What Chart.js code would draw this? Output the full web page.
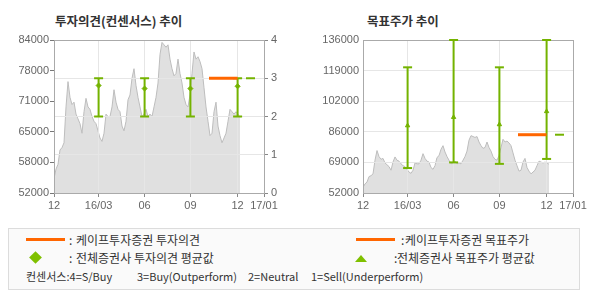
<!DOCTYPE html>
<html>
<head>
<meta charset="utf-8">
<script src="https://cdn.jsdelivr.net/npm/chart.js@4/dist/chart.umd.min.js"></script>
<style>
  body { margin: 0; background: #fff; width: 590px; height: 300px; position: relative; overflow: hidden;
         font-family: "Noto Sans CJK KR", sans-serif; color: #333; }
  .abs { position: absolute; white-space: nowrap; }
  .title { font-size: 12.5px; font-weight: bold; line-height: 15px; top: 13px; color: #333; }
  #c1 { position: absolute; left: 0; top: 0; }
  #c2 { position: absolute; left: 295px; top: 0; }
  .box { left: 8px; top: 228px; width: 570px; height: 60px; border: 1px solid #dcdcdc; background: #fafafa; }
  .lg { font-size: 12px; line-height: 14px; color: #333; }
  .sm { font-size: 11px; line-height: 13px; color: #333; top: 269.5px; }
  .oline { height: 3px; width: 39px; background: #f60; top: 238px; }
</style>
</head>
<body>
<div class="abs title" style="left:55px">투자의견(컨센서스) 추이</div>
<div class="abs title" style="left:367px">목표주가 추이</div>
<canvas id="c1" width="295" height="215"></canvas>
<canvas id="c2" width="295" height="215"></canvas>

<div class="abs box"></div>
<div class="abs oline" style="left:26px"></div>
<div class="abs lg" style="left:69px;top:232.5px">:</div>
<div class="abs lg" style="left:76px;top:232.5px">케이프투자증권 투자의견</div>
<div class="abs oline" style="left:356px"></div>
<div class="abs lg" style="left:401px;top:232.5px">:</div>
<div class="abs lg" style="left:405px;top:232.5px">케이프투자증권 목표주가</div>

<div class="abs" style="left:30.5px;top:253px;width:9px;height:9px;background:#7fc000;transform:rotate(45deg)"></div>
<div class="abs lg" style="left:69px;top:250.5px">:</div>
<div class="abs lg" style="left:76px;top:250.5px">전체증권사 투자의견 평균값</div>
<div class="abs" style="left:355px;top:255px;width:0;height:0;border-left:6px solid transparent;border-right:6px solid transparent;border-bottom:7px solid #7fc000"></div>
<div class="abs lg" style="left:394px;top:250.5px">:</div>
<div class="abs lg" style="left:397px;top:250.5px">전체증권사 목표주가 평균값</div>

<div class="abs sm" style="left:26px">컨센서스:4=S/Buy</div>
<div class="abs sm" style="left:137px">3=Buy(Outperform)</div>
<div class="abs sm" style="left:248px">2=Neutral</div>
<div class="abs sm" style="left:311px">1=Sell(Underperform)</div>

<script>
// x axis: one unit = one sample of the price series
const xTickLabels = ['12', '16/03', '06', '09', '12', '17/01'];
const xTickPos = [0, 22.3, 45.3, 68.2, 91.8, 105];

// share price (won)
const prices = [
  55000, 57000, 58000, 61000, 61500, 62500, 70000, 75300, 72000, 70500,
  71000, 68500, 67500, 66500, 64500, 69000, 71800, 70000, 69500, 68000,
  67000, 66500, 65000, 63500, 62800, 64500, 68500, 68000, 68000, 70000,
  73600, 71000, 69500, 69000, 66000, 65000, 67000, 71500, 72500, 76000,
  78000, 74500, 72000, 70000, 68000, 68500, 69500, 68000, 68500, 68000,
  70000, 72000, 75000, 81000, 83500, 83000, 82500, 83000, 80000, 78000,
  76500, 77000, 80000, 77000, 75000, 72000, 70500, 70000, 72500, 77000,
  81500, 80000, 80500, 79500, 78000, 74000, 70000, 67000, 64000, 64500,
  69000, 71000, 66000, 64000, 62500, 63500, 64500, 67000, 69500, 69000,
  68500, 69000, 68500, 67800
];

// consensus (all brokers)
const consensusX = [22.3, 45.3, 68.2, 91.8];
const opinionLow = [2, 2, 2, 2];
const opinionHigh = [3, 3, 3, 3];
const opinionAvg = [2.81, 2.73, 2.73, 2.79];
const targetLow = [65700, 68800, 68000, 70700];
const targetHigh = [121000, 136000, 121000, 136000];
const targetAvg = [89000, 93600, 89600, 96800];

// Cape Investment
const capeX = [77.5, 91.8];
const capeOpinion = [3, 3];
const capeTarget = [84000, 84000];
const tailX = [96, 100.5];
const opinionTail = [3, 3];
const targetTail = [84000, 84000];

const GREEN = '#74b300';
const ORANGE = '#ff6600';

Chart.defaults.font.family = '"Liberation Sans", Arial, sans-serif';
Chart.defaults.font.size = 11;
Chart.defaults.color = '#666';

// redraw grid + frame over the grey price area, below the other marks
const frameAndGrid = {
  id: 'frameAndGrid',
  afterDatasetDraw(chart, args) {
    if (chart.data.datasets[args.index].label !== 'price') return;
    Object.values(chart.scales).forEach(s => {
      if (s.options.grid.drawOnChartArea) s.drawGrid(chart.chartArea);
    });
    const a = chart.chartArea, ctx = chart.ctx;
    ctx.save();
    ctx.strokeStyle = '#aaa';
    ctx.lineWidth = 1;
    ctx.strokeRect(Math.round(a.left) + 0.5, Math.round(a.top) + 0.5,
                   Math.round(a.right - a.left), Math.round(a.bottom - a.top));
    ctx.restore();
  }
};

function pts(xs, ys) { return xs.map((x, i) => ({ x: x, y: ys[i] })); }

function segs(xs, lows, highs) {
  const out = [];
  xs.forEach((x, i) => { out.push({ x: x, y: lows[i] }, { x: x, y: highs[i] }, { x: x, y: null }); });
  return out;
}

function buildDatasets(axisId, low, high, avg, avgStyle, avgRadius, cape, tail) {
  return [
    { data: pts(capeX, cape), yAxisID: axisId, borderColor: ORANGE, borderWidth: 3, pointRadius: 0 },
    { data: pts(consensusX, avg), yAxisID: axisId, showLine: false, pointStyle: avgStyle,
      pointRadius: avgRadius, backgroundColor: GREEN, borderColor: GREEN, borderWidth: 1, clip: false },
    { data: pts(consensusX, low).concat(pts(consensusX, high)), yAxisID: axisId, showLine: false,
      pointStyle: 'line', pointRadius: 4.5, borderColor: GREEN, borderWidth: 2, clip: false },
    { data: segs(consensusX, low, high), yAxisID: axisId, borderColor: GREEN, borderWidth: 2,
      pointRadius: 0, spanGaps: false, clip: false },
    { data: pts(tailX, tail), yAxisID: axisId, borderColor: GREEN, borderWidth: 2, pointRadius: 0 },
    { label: 'price', data: prices.map((p, i) => ({ x: i, y: p })), yAxisID: 'y',
      borderColor: '#bdbdbd', borderWidth: 1, backgroundColor: '#e0e0e0', fill: 'start', pointRadius: 0 }
  ];
}

const xScale = {
  type: 'linear', min: 0, max: 105,
  afterBuildTicks: s => { s.ticks = xTickPos.map(v => ({ value: v })); },
  afterFit: s => { s.height = 22; },
  grid: { color: '#e6e6e6', tickColor: '#888', tickLength: 4 },
  border: { color: '#aaa' },
  ticks: { autoSkip: false, maxRotation: 0, padding: 2, callback: (v, i) => xTickLabels[i] }
};

const common = {
  type: 'line',
  plugins: [frameAndGrid],
};

new Chart(document.getElementById('c1'), Object.assign({}, common, {
  data: { datasets: buildDatasets('y1', opinionLow, opinionHigh, opinionAvg, 'rectRot', 2.5, capeOpinion, opinionTail) },
  options: {
    responsive: false, animation: false, devicePixelRatio: 1, events: [],
    layout: { padding: { top: 40, left: 0, right: 0, bottom: 0 } },
    plugins: { legend: { display: false }, tooltip: { enabled: false } },
    scales: {
      x: xScale,
      y: {
        position: 'left', min: 52000, max: 84000,
        afterFit: s => { s.width = 54; },
        grid: { drawOnChartArea: false, tickColor: '#777', tickLength: 4 },
        border: { color: '#aaa' },
        ticks: { stepSize: 6400, padding: 1, callback: v => String(Math.round(v / 1000) * 1000) }
      },
      y1: {
        position: 'right', min: 0, max: 4,
        afterFit: s => { s.width = 31; },
        grid: { color: '#e6e6e6', tickColor: '#888', tickLength: 4 },
        border: { color: '#aaa' },
        ticks: { stepSize: 1, padding: 3 }
      }
    }
  }
}));

new Chart(document.getElementById('c2'), Object.assign({}, common, {
  data: { datasets: buildDatasets('y', targetLow, targetHigh, targetAvg, 'triangle', 2.5, capeTarget, targetTail) },
  options: {
    responsive: false, animation: false, devicePixelRatio: 1, events: [],
    layout: { padding: { top: 40, left: 0, right: 17, bottom: 0 } },
    plugins: { legend: { display: false }, tooltip: { enabled: false } },
    scales: {
      x: xScale,
      y: {
        position: 'left', min: 52000, max: 136000,
        afterFit: s => { s.width = 68; },
        grid: { color: '#e6e6e6', drawTicks: false },
        border: { color: '#aaa' },
        ticks: { stepSize: 16800, padding: 4, callback: v => String(Math.round(v / 1000) * 1000) }
      }
    }
  }
}));
</script>
</body>
</html>
